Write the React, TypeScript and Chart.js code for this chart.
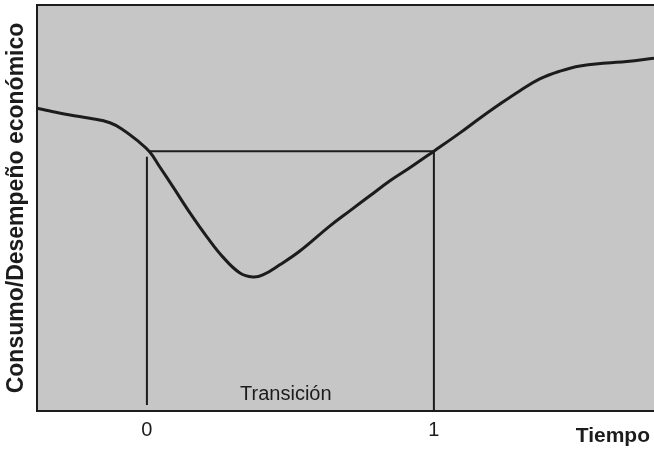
import React, { useEffect, useRef } from "react";
import { Chart, registerables } from "chart.js";

Chart.register(...registerables);

// Curve: consumption / economic performance over time
const curveX = [-0.383, -0.338, -0.268, -0.199, -0.129, -0.084, -0.035, 0.010, 0.045, 0.091, 0.150, 0.209, 0.265, 0.324, 0.369, 0.404, 0.463, 0.533, 0.638, 0.707, 0.777, 0.847, 0.916, 1.0, 1.091, 1.160, 1.230, 1.300, 1.369, 1.439, 1.509, 1.603, 1.672, 1.767];
const curveY = [74.6, 73.9, 72.9, 72.1, 71.0, 69.3, 66.7, 63.8, 60.1, 55.2, 48.8, 42.9, 37.9, 34.0, 33.0, 33.5, 36.0, 39.4, 45.6, 49.3, 53.0, 56.7, 59.9, 64.0, 68.5, 72.1, 75.6, 78.9, 81.8, 83.7, 85.0, 85.7, 86.1, 86.9];

// Transition bracket
const leftBarX = [0, 0];
const leftBarY = [62.6, 1.5];
const topBarX = [0.01, 1.0];
const topBarY = [64.0, 64.0];
const rightBarX = [1.0, 1.0];
const rightBarY = [64.0, 0];

const xTickValues = [0, 1];
const xTickLabels = ["0", "1"];
const xMin = -0.383;
const xMax = 1.767;
const yMin = 0;
const yMax = 100;

const transLabel = "Transición";
const transLabelX = 0.484;
const transLabelY = 2.7;
const xTitle = "Tiempo";
const yTitle = "Consumo/Desempeño económico";

const FONT = '"Liberation Sans", Arial, Helvetica, sans-serif';
const INK = "#1c1c1c";

const zip = (xs: number[], ys: number[]) => xs.map((x, i) => ({ x, y: ys[i] }));

const decorPlugin = {
  id: "decor",
  beforeDraw(chart: any) {
    const { ctx, chartArea } = chart;
    ctx.save();
    ctx.fillStyle = "#c6c6c6";
    ctx.fillRect(chartArea.left, chartArea.top, chartArea.right - chartArea.left, chartArea.bottom - chartArea.top);
    ctx.restore();
  },
  afterDraw(chart: any) {
    const { ctx, chartArea, scales } = chart;
    ctx.save();
    ctx.strokeStyle = INK;
    ctx.lineWidth = 2;
    ctx.beginPath();
    ctx.moveTo(chartArea.left, chartArea.top);
    ctx.lineTo(chartArea.right, chartArea.top);
    ctx.stroke();

    ctx.fillStyle = INK;
    ctx.font = `20px ${FONT}`;
    ctx.textAlign = "center";
    ctx.textBaseline = "alphabetic";
    ctx.fillText(transLabel, scales.x.getPixelForValue(transLabelX), scales.y.getPixelForValue(transLabelY));

    ctx.font = `bold 21px ${FONT}`;
    ctx.textAlign = "right";
    ctx.fillText(xTitle, chartArea.right - 4, 442);
    ctx.restore();
  },
};

export default function App() {
  const ref = useRef<HTMLCanvasElement>(null);
  useEffect(() => {
    if (!ref.current) return;
    const lineDs = (data: any[], width: number) => ({
      data,
      borderColor: INK,
      borderWidth: width,
      pointRadius: 0,
      fill: false,
      tension: 0,
    });
    const chart = new Chart(ref.current, {
      type: "line",
      data: {
        datasets: [
          { ...lineDs(zip(curveX, curveY), 3), tension: 0.4 },
          lineDs(zip(leftBarX, leftBarY), 2),
          lineDs(zip(topBarX, topBarY), 2),
          lineDs(zip(rightBarX, rightBarY), 2),
        ],
      },
      options: {
        animation: false,
        responsive: false,
        layout: { padding: { top: 5, bottom: 1.0, left: 0, right: 0 } },
        plugins: { legend: { display: false }, tooltip: { enabled: false } },
        scales: {
          x: {
            type: "linear",
            min: xMin,
            max: xMax,
            grid: { display: false, drawTicks: false },
            border: { display: true, color: INK, width: 2 },
            afterBuildTicks: (axis: any) => {
              axis.ticks = xTickValues.map((v) => ({ value: v }));
            },
            ticks: {
              padding: 7,
              color: INK,
              font: { family: FONT, size: 20 },
              callback: (v: any) => {
                const i = xTickValues.indexOf(Number(v));
                return i >= 0 ? xTickLabels[i] : "";
              },
            },
          },
          y: {
            type: "linear",
            min: yMin,
            max: yMax,
            grid: { display: false, drawTicks: false },
            border: { display: true, color: INK, width: 2 },
            ticks: { display: false },
            title: {
              display: true,
              text: yTitle,
              color: INK,
              font: { family: FONT, size: 23, weight: "bold" },
              padding: { top: 3, bottom: 6.4 },
            },
          },
        },
      },
      plugins: [decorPlugin],
    });
    return () => chart.destroy();
  }, []);
  return (
    <div style={{ position: "fixed", left: 0, top: 0, width: 654, height: 450, background: "#fff" }}>
      <canvas ref={ref} width={654} height={450} style={{ display: "block" }} />
    </div>
  );
}
